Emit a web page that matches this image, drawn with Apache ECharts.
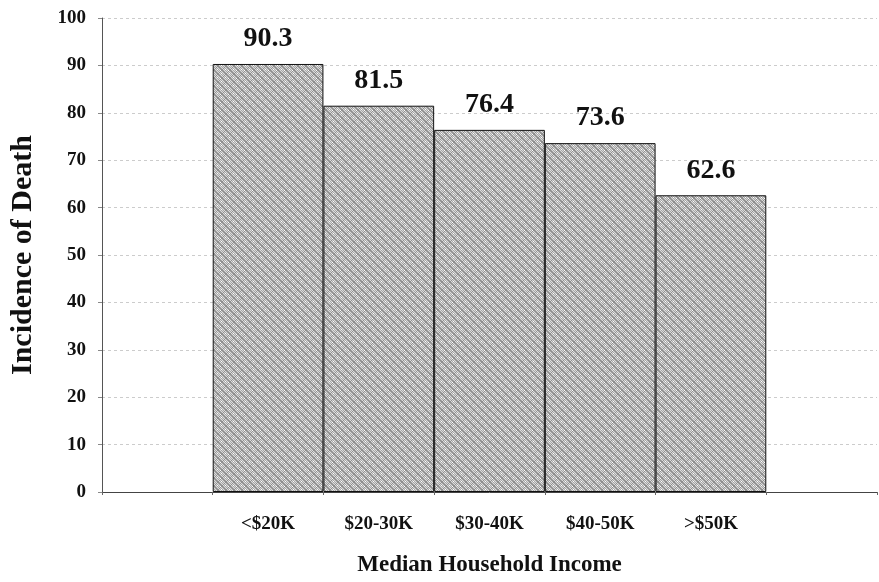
<!DOCTYPE html>
<html>
<head>
<meta charset="utf-8">
<script src="https://cdn.jsdelivr.net/npm/echarts@6/dist/echarts.min.js"></script>
<style>html,body{margin:0;padding:0;background:#fff;}#c{width:879px;height:582px;}</style>
</head>
<body>
<div id="c"></div>
<script>
var categories = ['<$20K', '$20-30K', '$30-40K', '$40-50K', '>$50K'];
var values = [90.3, 81.5, 76.4, 73.6, 62.6];
var yTicks = [0, 10, 20, 30, 40, 50, 60, 70, 80, 90, 100];

// fine dithered hatch pattern
var pc = document.createElement('canvas');
pc.width = 8; pc.height = 8;
var g = pc.getContext('2d');
for (var yy = 0; yy < 8; yy++) {
  for (var xx = 0; xx < 8; xx++) {
    var c = ((xx + yy) % 2 === 0) ? '#dcdcdc' : '#a6a6a6';
    if ((xx - yy + 8) % 8 === 0 || (xx + yy) % 8 === 3) c = '#8e8e8e';
    g.fillStyle = c;
    g.fillRect(xx, yy, 1, 1);
  }
}
g.fillStyle = '#ffffff';
g.fillRect(5, 1, 1, 1);
g.fillRect(1, 5, 1, 1);
g.fillRect(4, 6, 1, 1);

var axisCats = [''].concat(categories).concat(['']);
var axisVals = [null].concat(values).concat([null]);

var font = '"Liberation Serif", "Times New Roman", serif';
var chart = echarts.init(document.getElementById('c'), null, {renderer: 'canvas'});
chart.setOption({
  animation: false,
  backgroundColor: '#fff',
  grid: {left: 100, right: 2, top: 18, bottom: 86, containLabel: false},
  xAxis: {
    type: 'category',
    data: axisCats,
    boundaryGap: true,
    name: 'Median Household Income',
    nameLocation: 'middle',
    nameGap: 62,
    nameTextStyle: {fontFamily: font, fontWeight: 'bold', fontSize: 23, color: '#111'},
    axisLine: {lineStyle: {color: '#444', width: 1}},
    axisTick: {show: true, length: 3, lineStyle: {color: '#666'}},
    axisLabel: {fontFamily: font, fontWeight: 'bold', fontSize: 19, color: '#111', margin: 23},
    splitLine: {show: false}
  },
  yAxis: {
    type: 'value',
    min: 0, max: 100, interval: 10,
    name: 'Incidence of Death',
    nameLocation: 'middle',
    nameGap: 64,
    nameRotate: 90,
    nameTextStyle: {fontFamily: font, fontWeight: 'bold', fontSize: 30, color: '#111'},
    axisLine: {show: true, lineStyle: {color: '#555', width: 1}},
    axisTick: {show: true, length: 4, lineStyle: {color: '#888'}},
    axisLabel: {fontFamily: font, fontWeight: 'bold', fontSize: 19, color: '#111', margin: 16,
      formatter: function (v) { return yTicks.indexOf(v) >= 0 ? String(v) : ''; }},
    splitLine: {show: true, lineStyle: {color: '#cccccc', type: [3, 3], width: 1}}
  },
  series: [{
    type: 'bar',
    data: axisVals,
    barCategoryGap: '0%',
    itemStyle: {color: {image: pc, repeat: 'repeat'}, borderColor: '#111', borderWidth: 1},
    label: {show: true, position: 'top', distance: 11, fontFamily: font, fontWeight: 'bold', fontSize: 28, color: '#111',
      formatter: function (p) { return p.value == null ? '' : p.value.toFixed(1); }}
  }]
});
</script>
</body>
</html>
